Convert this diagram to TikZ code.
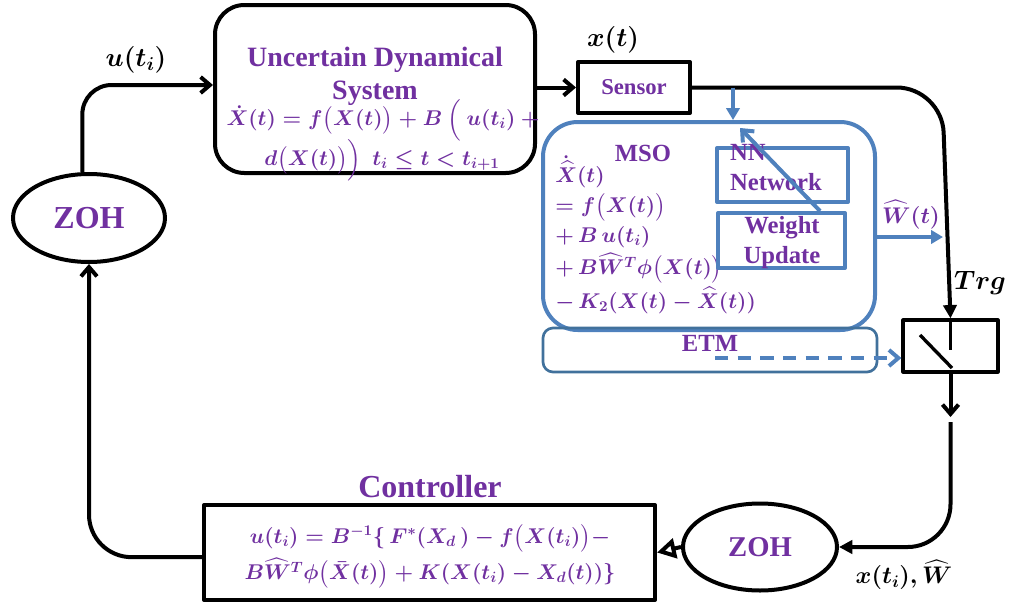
\RequirePackage{fix-cm}
\documentclass[tikz,border=0pt]{standalone}
\usepackage{amsmath}
\usepackage{fontspec}
\setmainfont{Liberation Serif}
\usetikzlibrary{arrows.meta,shapes.geometric}
\definecolor{pur}{HTML}{7030A0}
\definecolor{blu}{HTML}{4F81BD}
\definecolor{dblu}{HTML}{41719C}
\tikzset{
  blkbox/.style={draw=black, line width=3pt, inner sep=0pt},
  blubox/.style={draw=blu, line width=3pt, inner sep=0pt},
  ptitle/.style={text=pur, font=\bfseries\fontsize{18.5}{22.5}\selectfont, inner sep=0pt},
  pbig/.style={text=pur, font=\bfseries\fontsize{21}{25}\selectfont, inner sep=0pt},
  peq/.style={text=pur, font=\fontsize{16}{24}\selectfont\boldmath, inner sep=0pt},
  blab/.style={text=black, font=\fontsize{20}{24}\selectfont\boldmath, inner sep=0pt},
  conn/.style={draw=black, line width=3pt},
  bconn/.style={draw=blu, line width=3pt},
  barb/.style={-{Straight Barb[length=7pt,width=12pt]}},
  tri/.style={-{Triangle[length=10pt,width=10pt]}},
}
\begin{document}
\begin{tikzpicture}[x=0.75pt,y=-0.75pt,line join=round]
\useasboundingbox (0,0) rectangle (1018,607);

% boxes
\node[blkbox, rounded corners=22pt, minimum width=240pt, minimum height=126pt] (uds) at (375,89) {};
\node[pbig, align=center, font=\bfseries\fontsize{21}{24.75}\selectfont] (udst) at (375,76) {Uncertain Dynamical\\System};
\node[peq] (udse1) at (383,120) {$\dot X(t) = f\big(X(t)\big) + B\ \Big(\ u(t_i)\ +$};
\node[peq] (udse2) at (382,160) {$d\big(X(t)\big)\Big)\ \ t_i \le t < t_{i+1}$};

\node[blkbox, minimum width=84pt, minimum height=38.25pt, ptitle, font=\bfseries\fontsize{17}{20}\selectfont] (sensor) at (634,87.5) {Sensor};
\node[blab] (xt) at (613,40) {$x(t)$};

\node[blubox, rounded corners=26pt, minimum width=249pt, minimum height=156pt] (mso) at (709,226) {};
\node[ptitle] (msot) at (643,153) {MSO};
\node[peq, anchor=west] (m1) at (555,172) {$\dot{\widehat X}(t)$};
\node[peq, anchor=west] (m2) at (555,207) {$= f\big(X(t)\big)$};
\node[peq, anchor=west] (m3) at (555,237) {$+\,B\,u(t_i)$};
\node[peq, anchor=west] (m4) at (555,268) {$+\,B\widehat W^{T}\phi\big(X(t)\big)$};
\node[peq, anchor=west] (m5) at (555,300) {$-\,K_2(X(t) - \widehat X(t))$};

\node[blubox, minimum width=98.25pt, minimum height=40.5pt] (nn) at (782.5,175) {};
\node[ptitle, align=left] (nnt) at (776,168) {NN\\Network};
\node[blubox, minimum width=95.25pt, minimum height=41.25pt] (wu) at (781.5,240.5) {};
\node[ptitle, align=center] (wut) at (782,243) {Weight\\Update};

\node[draw=dblu, line width=2pt, rounded corners=7.5pt, minimum width=250.5pt, minimum height=33pt, inner sep=0pt] (etm) at (710,350) {};
\node[ptitle] (etmt) at (710,343) {ETM};

\node[draw=black, line width=2.4pt, minimum width=71.25pt, minimum height=39pt, inner sep=0pt] (sw) at (950.5,346) {};
\node[blab] (trg) at (980,283) {$Trg$};

\node[blkbox, minimum width=338.25pt, minimum height=71.25pt] (ctrl) at (429.5,552.5) {};
\node[pbig, font=\bfseries\fontsize{24}{28}\selectfont] (ctrlt) at (430,487) {Controller};
\node[peq] (c1e) at (430,538) {$u(t_i) = B^{-1}\{\,F^{*}(X_d\,) - f\big(X(t_i)\big) -$};
\node[peq] (c2e) at (430,573) {$B\widehat W^{T}\phi\big(\bar X(t)\big) + K(X(t_i) - X_d(t))\}$};

\node[blkbox, ellipse, minimum width=114pt, minimum height=66pt, text=pur, font=\bfseries\fontsize{24}{28}\selectfont] (zohL) at (89,218) {ZOH};
\node[blkbox, ellipse, minimum width=115.5pt, minimum height=65.25pt, text=pur, font=\bfseries\fontsize{21.5}{25}\selectfont] (zohB) at (760,547) {ZOH};

\node[blab] (ut) at (136,60) {$u(t_i)$};
\node[blab, font=\fontsize{18}{22}\selectfont\boldmath] (xw) at (904,575) {$x(t_i), \widehat W$};
\node[peq, font=\fontsize{17}{24}\selectfont\boldmath] (wt) at (911,215) {$\widehat W(t)$};

% coordinates
\coordinate (k1) at (942,87.5);
\coordinate (k2) at (950.5,417);
\coordinate (k3) at (950.5,422);
\coordinate (k4) at (733,87.5);
\coordinate (k5) at (820,211);
\coordinate (k6) at (740,128);
\coordinate (k7) at (943,237);
\coordinate (k8) at (715,358);
\coordinate (k9) at (950.5,350);
\coordinate (k10) at (920,335);
\coordinate (k11) at (952,368);

% connectors
\draw[conn, barb, rounded corners=22pt] ([xshift=-5pt]zohL.north) |- ([yshift=3pt]uds.west);
\draw[conn, barb] (uds.east |- sensor.west) -- (sensor.west);
\draw[conn, tri, rounded corners=34pt] (sensor.east) -- (k1) -- (sw.north);
\draw[line width=2.5pt] (sw.north) -- (k9);
\draw[line width=2.5pt] (k10) -- (k11);
\draw[conn, barb] (sw.south) -- (k2);
\draw[conn, tri, rounded corners=32pt] (k3) |- (zohB.east);
\draw[conn, -{Triangle[open,length=14pt,width=15pt]}] (zohB.west) -- (ctrl.east);
\draw[conn, barb, rounded corners=32pt] ([yshift=-3.5pt]ctrl.west) -| (zohL.south);

\draw[bconn, -{Triangle[length=9pt,width=10pt]}] (k4) -- (k4 |- mso.north);
\draw[bconn, -{Straight Barb[length=7pt,width=12pt]}] (k5) -- (k6);
\draw[bconn, -{Triangle[length=9pt,width=10pt]}] (mso.east |- k7) -- (k7);
\draw[bconn, dash pattern=on 10pt off 7pt, -{Straight Barb[length=7pt,width=12pt]}] (k8) -- (sw.west |- k8);
\end{tikzpicture}
\end{document}
